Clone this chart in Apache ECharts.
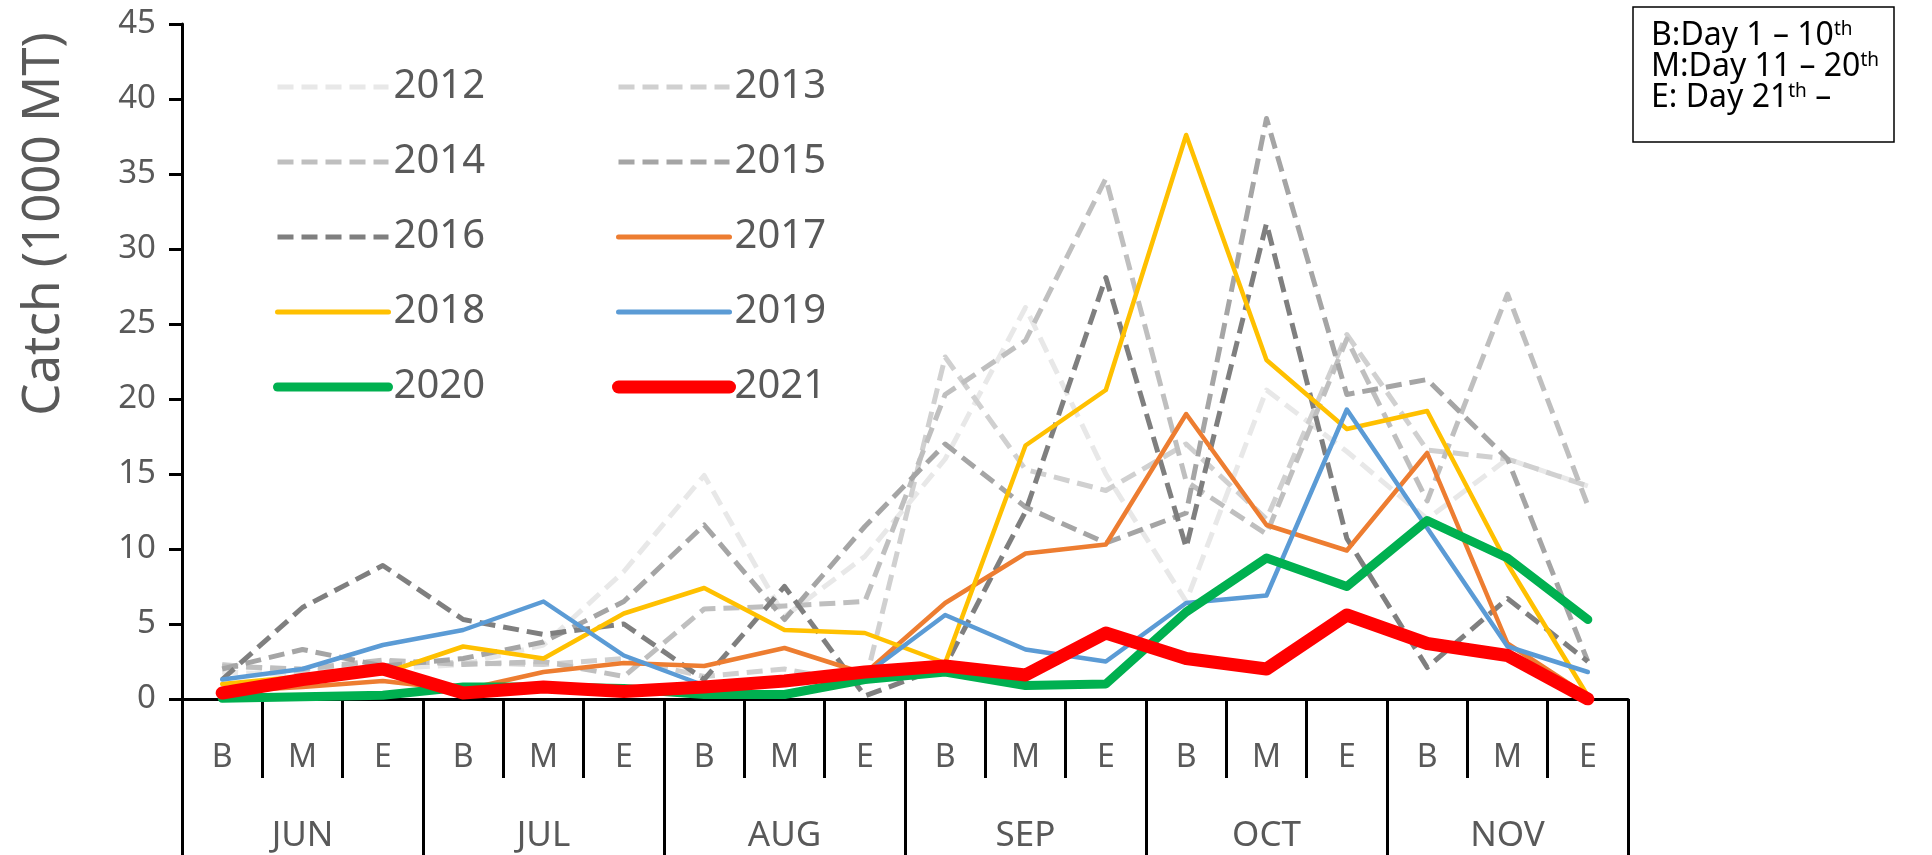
<!DOCTYPE html>
<html>
<head>
<meta charset="utf-8">
<script src="https://cdn.jsdelivr.net/npm/echarts@6/dist/echarts.min.js"></script>
<style>
  html, body { margin: 0; padding: 0; background: #fff; }
  #chart { width: 1932px; height: 855px; }
</style>
</head>
<body>
<div id="chart"></div>
<script>
// ten-day periods (B/M/E) inside each month
var periods = ['B', 'M', 'E', 'B', 'M', 'E', 'B', 'M', 'E', 'B', 'M', 'E', 'B', 'M', 'E', 'B', 'M', 'E'];
var months = ['JUN', 'JUL', 'AUG', 'SEP', 'OCT', 'NOV'];

// catch, 1000 MT
var c2012 = [1.8, 1.6, 2.0, 2.3, 3.6, 8.5, 14.9, 5.5, 9.5, 16.0, 26.1, 15.0, 6.5, 20.6, 16.5, 12.0, 16.0, 14.2];
var c2013 = [2.3, 1.8, 2.5, 2.4, 2.3, 2.7, 1.5, 2.0, 1.0, 22.8, 15.3, 13.9, 17.0, 12.0, 24.3, 16.6, 16.0, 14.2];
var c2014 = [2.2, 2.0, 2.6, 2.3, 2.5, 1.5, 6.0, 6.2, 6.5, 20.3, 23.9, 34.7, 14.5, 11.0, 24.0, 13.2, 27.0, 12.9];
var c2015 = [2.0, 3.3, 2.2, 2.7, 3.8, 6.5, 11.6, 5.3, 11.5, 17.0, 12.8, 10.4, 12.4, 38.7, 20.3, 21.3, 16.0, 2.5];
var c2016 = [1.3, 6.1, 8.9, 5.3, 4.3, 5.0, 1.3, 7.5, 0.2, 2.2, 12.5, 28.1, 10.1, 31.7, 10.7, 2.1, 6.7, 2.5];
var c2017 = [0.5, 0.8, 1.2, 0.6, 1.8, 2.4, 2.2, 3.4, 1.7, 6.4, 9.7, 10.3, 19.0, 11.6, 9.9, 16.4, 3.7, 0.2];
var c2018 = [1.0, 1.5, 1.7, 3.5, 2.7, 5.7, 7.4, 4.6, 4.4, 2.4, 16.9, 20.6, 37.6, 22.6, 18.0, 19.2, 9.0, 0.2];
var c2019 = [1.3, 2.0, 3.6, 4.6, 6.5, 2.9, 0.9, 1.1, 1.6, 5.6, 3.3, 2.5, 6.4, 6.9, 19.3, 11.4, 3.5, 1.8];
var c2020 = [0.05, 0.15, 0.25, 0.8, 0.8, 0.7, 0.3, 0.3, 1.3, 1.8, 0.9, 1.0, 5.8, 9.4, 7.5, 11.9, 9.4, 5.3];
var c2021 = [0.4, 1.3, 2.0, 0.4, 0.8, 0.5, 0.8, 1.2, 1.8, 2.2, 1.6, 4.4, 2.7, 2.0, 5.6, 3.7, 2.9, 0];

var font = 'Noto Sans';
var textGrey = '#595959';

var chartDom = document.getElementById('chart');
var myChart = echarts.init(chartDom);
var option;

function yearLine(name, data, color, width, dashed) {
  return {
    name: name,
    type: 'line',
    data: data,
    symbol: 'none',
    showSymbol: false,
    animation: false,
    xAxisIndex: 0,
    itemStyle: { color: color },
    lineStyle: {
      color: color,
      width: width,
      type: dashed ? [16, 8] : 'solid',
      join: 'round',
      cap: dashed ? 'butt' : 'round'
    },
    emphasis: { disabled: true }
  };
}

function legendCol(left, names) {
  return {
    orient: 'vertical',
    left: left,
    top: 67,
    padding: 0,
    itemWidth: 111,
    itemHeight: 14,
    itemGap: 35,
    selectedMode: false,
    itemStyle: { opacity: 0 },
    lineStyle: { width: 5 },
    textStyle: { fontSize: 40, lineHeight: 40, color: textGrey, fontFamily: font },
    data: names.map(function (n) {
      var w = n === '2020' ? 9 : n === '2021' ? 13 : 5;
      return { name: n, lineStyle: { width: w } };
    })
  };
}

option = {
  animation: false,
  backgroundColor: '#fff',
  grid: { left: 182, right: 304, top: 24, bottom: 156 },
  legend: [
    legendCol(273, ['2012', '2014', '2016', '2018', '2020']),
    legendCol(612, ['2013', '2015', '2017', '2019', '2021'])
  ],
  xAxis: [
    {
      type: 'category',
      data: periods,
      boundaryGap: true,
      axisLine: { onZero: false, lineStyle: { color: '#000', width: 3 } },
      axisTick: { show: true, interval: 0, length: 79, lineStyle: { color: '#000', width: 3 } },
      axisLabel: { interval: 0, fontSize: 32, color: textGrey, fontFamily: font, margin: 43 }
    },
    {
      type: 'category',
      data: months,
      position: 'bottom',
      boundaryGap: true,
      axisLine: { show: false, onZero: false },
      axisTick: { show: true, interval: 0, length: 160, lineStyle: { color: '#000', width: 3 } },
      axisLabel: { interval: 0, fontSize: 35, color: textGrey, fontFamily: font, margin: 120 }
    }
  ],
  yAxis: {
    type: 'value',
    min: 0,
    max: 45,
    interval: 5,
    axisLine: { show: true, lineStyle: { color: '#000', width: 3 } },
    axisTick: { show: true, length: 13, lineStyle: { color: '#000', width: 3 } },
    splitLine: { show: false },
    axisLabel: { fontSize: 33, color: textGrey, fontFamily: font, margin: 26 }
  },
  graphic: [
    {
      type: 'text',
      x: 44,
      y: 224,
      rotation: Math.PI / 2,
      style: {
        text: 'Catch (1000 MT)',
        fontSize: 51,
        fontFamily: font,
        fill: textGrey,
        align: 'center',
        verticalAlign: 'middle'
      }
    },
    {
      type: 'rect',
      shape: { x: 1633, y: 7, width: 261, height: 135 },
      style: { fill: '#fff', stroke: '#000', lineWidth: 1.5 }
    },
    {
      type: 'text',
      x: 1651,
      y: 20,
      style: {
        text: '{m|B:Day 1 \u2013 10}{s|th}\n{m|M:Day 11 \u2013 20}{s|th}\n{m|E: Day 21}{s|th}{m| \u2013}',
        fontFamily: font,
        fill: '#000',
        rich: {
          m: { fontSize: 32, lineHeight: 31, fontFamily: font, fill: '#000' },
          s: { fontSize: 19, lineHeight: 31, fontFamily: font, fill: '#000', verticalAlign: 'top', padding: [0, 0, 14, 0] }
        }
      }
    }
  ],
  series: [
    yearLine('2012', c2012, '#e8e8e8', 5, true),
    yearLine('2013', c2013, '#d0d0d0', 5, true),
    yearLine('2014', c2014, '#bfbfbf', 5, true),
    yearLine('2015', c2015, '#a5a5a5', 5, true),
    yearLine('2016', c2016, '#7f7f7f', 5, true),
    yearLine('2017', c2017, '#ed7d31', 4.5, false),
    yearLine('2018', c2018, '#ffc000', 4.5, false),
    yearLine('2019', c2019, '#5b9bd5', 4.5, false),
    yearLine('2020', c2020, '#00b050', 9, false),
    yearLine('2021', c2021, '#ff0000', 13, false)
  ]
};

option && myChart.setOption(option);
</script>
</body>
</html>
